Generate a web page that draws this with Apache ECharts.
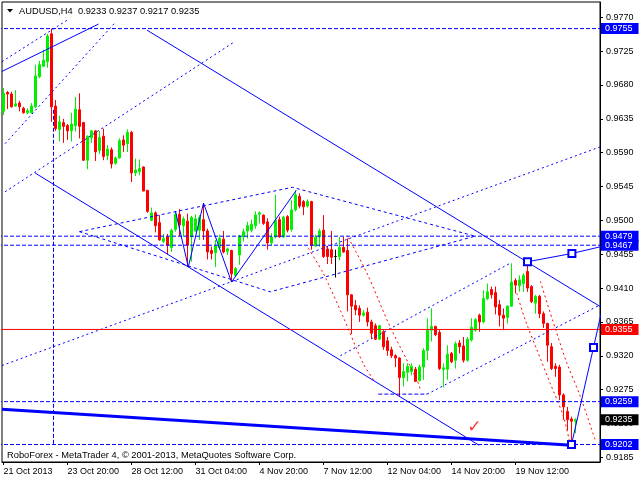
<!DOCTYPE html>
<html><head><meta charset="utf-8">
<script src="https://cdn.jsdelivr.net/npm/echarts@6/dist/echarts.min.js"></script>
<style>html,body{margin:0;padding:0;background:#fff}#c{width:640px;height:480px}</style>
</head><body><div id="c"></div>
<script>
// ---- candle data (AUDUSD H4), bar index 0..143 ----
const opens = [0.9645,0.9670,0.9668,0.9652,0.9656,0.9649,0.9643,0.9643,0.9651,0.9691,
0.9705,0.9711,0.9748,0.9652,0.9621,0.9630,0.9626,0.9619,0.9626,0.9647,
0.9630,0.9580,0.9610,0.9619,0.9593,0.9612,0.9586,0.9594,0.9576,0.9583,
0.9607,0.9602,0.9617,0.9563,0.9565,0.9571,0.9540,0.9500,0.9510,0.9497,
0.9472,0.9478,0.9464,0.9488,0.9508,0.9493,0.9499,0.9478,0.9486,0.9487,
0.9501,0.9486,0.9460,0.9457,0.9464,0.9475,0.9459,0.9460,0.9427,0.9454,
0.9478,0.9486,0.9487,0.9493,0.9508,0.9507,0.9498,0.9470,0.9478,0.9501,
0.9478,0.9505,0.9488,0.9514,0.9532,0.9525,0.9519,0.9525,0.9466,0.9478,
0.9487,0.9462,0.9461,0.9452,0.9452,0.9464,0.9460,0.9401,0.9387,0.9383,
0.9374,0.9378,0.9365,0.9360,0.9342,0.9352,0.9340,0.9328,0.9320,0.9317,
0.9291,0.9298,0.9299,0.9302,0.9287,0.9305,0.9327,0.9354,0.9359,0.9351,
0.9302,0.9302,0.9323,0.9314,0.9337,0.9333,0.9314,0.9341,0.9354,0.9374,
0.9365,0.9396,0.9408,0.9404,0.9388,0.9374,0.9371,0.9386,0.9420,0.9413,
0.9416,0.9432,0.9412,0.9390,0.9399,0.9376,0.9363,0.9332,0.9306,0.9305,
0.9268,0.9246,0.9236,0.9233];
const highs = [0.9676,0.9672,0.9671,0.9673,0.9659,0.9651,0.9649,0.9656,0.9707,0.9712,
0.9727,0.9748,0.9755,0.9660,0.9639,0.9635,0.9628,0.9643,0.9664,0.9669,
0.9631,0.9613,0.9620,0.9620,0.9619,0.9622,0.9600,0.9597,0.9585,0.9609,
0.9613,0.9621,0.9619,0.9582,0.9581,0.9572,0.9540,0.9517,0.9512,0.9507,
0.9482,0.9482,0.9489,0.9512,0.9515,0.9505,0.9509,0.9506,0.9508,0.9507,
0.9523,0.9489,0.9465,0.9474,0.9481,0.9486,0.9464,0.9461,0.9438,0.9481,
0.9489,0.9498,0.9501,0.9512,0.9512,0.9508,0.9503,0.9483,0.9534,0.9505,
0.9506,0.9507,0.9527,0.9540,0.9536,0.9527,0.9528,0.9526,0.9481,0.9489,
0.9507,0.9466,0.9486,0.9461,0.9478,0.9478,0.9476,0.9402,0.9394,0.9387,
0.9381,0.9384,0.9368,0.9363,0.9361,0.9354,0.9345,0.9332,0.9322,0.9318,
0.9310,0.9310,0.9310,0.9305,0.9308,0.9330,0.9370,0.9383,0.9360,0.9354,
0.9310,0.9334,0.9325,0.9339,0.9341,0.9345,0.9345,0.9370,0.9370,0.9376,
0.9407,0.9416,0.9412,0.9412,0.9394,0.9383,0.9387,0.9443,0.9423,0.9427,
0.9430,0.9445,0.9414,0.9401,0.9401,0.9379,0.9364,0.9337,0.9310,0.9308,
0.9270,0.9252,0.9239,0.9237];
const lows = [0.9640,0.9648,0.9650,0.9651,0.9645,0.9642,0.9641,0.9642,0.9649,0.9689,
0.9704,0.9703,0.9631,0.9619,0.9605,0.9603,0.9607,0.9605,0.9618,0.9609,
0.9579,0.9568,0.9603,0.9579,0.9588,0.9580,0.9580,0.9569,0.9574,0.9582,
0.9591,0.9591,0.9551,0.9559,0.9560,0.9539,0.9510,0.9499,0.9484,0.9473,
0.9470,0.9455,0.9458,0.9485,0.9479,0.9478,0.9438,0.9445,0.9485,0.9474,
0.9474,0.9448,0.9448,0.9438,0.9461,0.9456,0.9454,0.9418,0.9426,0.9441,
0.9472,0.9476,0.9484,0.9489,0.9496,0.9494,0.9461,0.9467,0.9476,0.9477,
0.9477,0.9484,0.9485,0.9512,0.9516,0.9507,0.9517,0.9461,0.9465,0.9465,
0.9450,0.9442,0.9442,0.9424,0.9447,0.9457,0.9379,0.9349,0.9374,0.9365,
0.9372,0.9359,0.9343,0.9341,0.9341,0.9328,0.9320,0.9317,0.9305,0.9266,
0.9279,0.9286,0.9294,0.9285,0.9286,0.9288,0.9314,0.9339,0.9346,0.9301,
0.9278,0.9288,0.9310,0.9303,0.9323,0.9311,0.9312,0.9339,0.9352,0.9352,
0.9363,0.9394,0.9396,0.9375,0.9359,0.9354,0.9363,0.9385,0.9403,0.9405,
0.9405,0.9405,0.9390,0.9376,0.9370,0.9357,0.9312,0.9301,0.9292,0.9261,
0.9235,0.9221,0.9202,0.9217];
const closes = [0.9669,0.9668,0.9651,0.9655,0.9651,0.9643,0.9646,0.9652,0.9692,0.9707,
0.9713,0.9745,0.9651,0.9622,0.9631,0.9625,0.9619,0.9628,0.9648,0.9625,
0.9580,0.9612,0.9619,0.9591,0.9610,0.9585,0.9595,0.9575,0.9583,0.9606,
0.9600,0.9617,0.9563,0.9567,0.9569,0.9539,0.9512,0.9510,0.9493,0.9474,
0.9476,0.9467,0.9487,0.9508,0.9494,0.9502,0.9467,0.9504,0.9502,0.9504,
0.9486,0.9458,0.9456,0.9467,0.9476,0.9458,0.9462,0.9429,0.9436,0.9479,
0.9485,0.9493,0.9495,0.9507,0.9510,0.9496,0.9470,0.9478,0.9500,0.9478,
0.9504,0.9487,0.9514,0.9534,0.9519,0.9518,0.9525,0.9467,0.9478,0.9486,
0.9452,0.9452,0.9451,0.9452,0.9464,0.9458,0.9401,0.9386,0.9381,0.9374,
0.9377,0.9365,0.9350,0.9342,0.9360,0.9332,0.9327,0.9320,0.9317,0.9291,
0.9299,0.9306,0.9306,0.9286,0.9305,0.9327,0.9354,0.9359,0.9348,0.9303,
0.9304,0.9322,0.9312,0.9336,0.9332,0.9314,0.9342,0.9358,0.9368,0.9365,
0.9396,0.9405,0.9401,0.9385,0.9374,0.9370,0.9386,0.9418,0.9414,0.9421,
0.9427,0.9410,0.9392,0.9399,0.9376,0.9363,0.9334,0.9303,0.9303,0.9268,
0.9252,0.9235,0.9233,0.9235];

// ---- axis ticks / labels ----
const timeTickIdx = [0,16,32,48,64,80,96,112,128];
const timeLabels = ['21 Oct 2013','23 Oct 20:00','28 Oct 12:00','31 Oct 04:00','4 Nov 20:00','7 Nov 12:00','12 Nov 04:00','14 Nov 20:00','19 Nov 12:00'];
const priceTicks = [0.9185,0.9230,0.9275,0.9320,0.9365,0.9410,0.9455,0.9500,0.9545,0.9590,0.9635,0.9680,0.9725,0.9770];
const headerText = 'AUDUSD,H4  0.9233 0.9237 0.9217 0.9235';
const footerText = 'RoboForex - MetaTrader 4, \u00a9 2001-2013, MetaQuotes Software Corp.';

// ---- horizontal levels ----
const blueLevels = [0.9755,0.9479,0.9467,0.9259,0.9202];
const redLevel = 0.9355;
const bidLevel = 0.9235;

// ---- drawing objects: [bar index, price] ----
const solidTopLeft = [[-0.4,0.9698],[23.75,0.9761]];
const dotTopA = [[-0.4,0.9711],[15.85,0.9766]];
const dotTopB = [[0.4,0.9602],[27.9,0.9763]];
const dotLongA = [[0.4,0.9538],[57.9,0.9738]];
const channelTop = [[35.85,0.9753],[149.3,0.9385]];
const channelBottom = [[7.9,0.9563],[118.9,0.9201]];
const thickSupport = [[-0.4,0.9249],[142,0.9201]];
const projUp = [[142,0.9202],[147.5,0.9331],[149.4,0.9376]];
const projTop = [[131,0.9445],[142.1,0.9456],[149.3,0.9465]];
const zigzag = [[43,0.9512],[46.2,0.9438],[50,0.9523],[57,0.9418],[73.2,0.9540]];
const rhombus = [[19,0.9485],[72.2,0.9544],[117.9,0.9479],[66.7,0.9405],[19,0.9485]];
const dotRise1 = [[-0.4,0.9307],[149.3,0.9598]];
const dotRise2 = [[84.2,0.9320],[127,0.9444]];
const dotRise3 = [[105.9,0.9269],[149.3,0.9388]];
const dotLowFlat = [[93.7,0.9269],[105.9,0.9269]];
const vertLine = [[12.5,0.9647],[12.5,0.9202]];
const arcA = [[76.2,0.9463],[79.9,0.9430],[84.9,0.9372],[89.9,0.9310],[92.9,0.9285]];
const arcB = [[86.2,0.9477],[90.85,0.9430],[96.7,0.9358],[103.35,0.9288],[104.2,0.9275]];
const arcC = [[128.35,0.9403],[130.4,0.9368],[133.35,0.9328],[136.7,0.9283],[140,0.9239],[141.7,0.9201]];
const arcD = [[134.2,0.9419],[137.9,0.9357],[140.85,0.9310],[144.2,0.9266],[147.9,0.9208]];
const checkMark = [[117.7,0.9225]];
const squaresA = [0,1]; // indices in projUp with marker
const squaresB = [0,1]; // indices in projTop with marker

const X_MIN = -0.375, X_MAX = 149.125, Y_MIN = 0.917877, Y_MAX = 0.979034;
const FONT = '"Liberation Sans", Arial, sans-serif';
const BLUE = '#0000ff', RED = '#ff0000';

const candleData = opens.map((o,i)=>[i,o,closes[i],lows[i],highs[i]]);

function seg(data, color, type, width, extra) {
  return Object.assign({type:'line', data:data, symbol:'none', silent:true, animation:false,
    lineStyle:{color:color, type:type, width:width}, z:3}, extra||{});
}
function marked(data, idx) {
  return data.map((p,i)=> idx.indexOf(i)>=0 ? {value:p, symbol:'emptyRect', symbolSize:7} : {value:p, symbol:'none'});
}
function level(p, lineColor, bg, lineType, showLine) {
  return {type:'line', data:[[X_MIN-1,p],[X_MAX,p]], symbol:'none', silent:true, animation:false, z:4,
    lineStyle:{color:lineColor, type:lineType, width:1, opacity: showLine?1:0},
    endLabel:{show:true, formatter:()=>p.toFixed(4), color:'#fff', backgroundColor:bg,
      fontFamily:FONT, fontSize:9, lineHeight:10, padding:[1,6,0,4], distance:1}};
}

const series = [
  {type:'candlestick', data:candleData, barWidth:2, animation:false, silent:true, z:2,
   itemStyle:{color:'#00f000', color0:RED, borderColor:'#00f000', borderColor0:RED, borderColorDoji:'#000000', borderWidth:1}},
  seg(solidTopLeft, BLUE, 'solid', 1),
  seg(dotTopA, BLUE, [2,3], 1),
  seg(dotTopB, BLUE, [2,3], 1),
  seg(dotLongA, BLUE, [2,3], 1),
  seg(channelTop, BLUE, 'solid', 1),
  seg(channelBottom, BLUE, 'solid', 1),
  seg(thickSupport, BLUE, 'solid', 3),
  seg(zigzag, BLUE, 'solid', 1),
  seg(rhombus, BLUE, [3,3], 1),
  seg(dotRise1, BLUE, [2,3], 1),
  seg(dotRise2, BLUE, [2,3], 1),
  seg(dotRise3, BLUE, [2,3], 1),
  seg(dotLowFlat, BLUE, [4,2], 1),
  seg(vertLine, BLUE, [4,2], 1),
  seg(arcA, RED, [2,3], 1, {smooth:0.3}),
  seg(arcB, RED, [2,3], 1, {smooth:0.3}),
  seg(arcC, RED, [2,3], 1, {smooth:0.3}),
  seg(arcD, RED, [2,3], 1, {smooth:0.3}),
  Object.assign(seg(marked(projUp, squaresA), BLUE, 'solid', 1), {showSymbol:true, itemStyle:{color:BLUE, borderWidth:1}, z:5}),
  Object.assign(seg(marked(projTop, squaresB), BLUE, 'solid', 1), {showSymbol:true, itemStyle:{color:BLUE, borderWidth:1}, z:5}),
  {type:'scatter', data:checkMark, symbol:'circle', symbolSize:1, silent:true, animation:false, z:6,
   itemStyle:{color:'rgba(0,0,0,0)'},
   label:{show:true, formatter:'\u2713', color:RED, fontSize:17, fontWeight:'bold', position:'inside', fontFamily:'DejaVu Sans'}},
];
blueLevels.forEach(p=>series.push(level(p, BLUE, BLUE, [4,2], true)));
series.push(level(redLevel, RED, RED, 'solid', true));
series.push(level(bidLevel, '#000', '#000', 'solid', false));

const option = {
  animation:false,
  backgroundColor:'#ffffff',
  title:[
    {text:headerText, left:19, top:5, padding:0, textStyle:{fontFamily:FONT, fontSize:9.3, fontWeight:'normal', color:'#000', lineHeight:12}},
    {text:footerText, left:7, top:449, padding:0, textStyle:{fontFamily:FONT, fontSize:9.3, fontWeight:'normal', color:'#000', lineHeight:12}}
  ],
  graphic:[{type:'polygon', shape:{points:[[7,9],[13,9],[10,12.5]]}, style:{fill:'#000'}}],
  grid:{left:2, right:40, top:2, bottom:18, show:true, borderColor:'#000', borderWidth:1, backgroundColor:'#fff'},
  xAxis:{type:'value', min:X_MIN, max:X_MAX, splitLine:{show:false},
    axisLine:{show:true, onZero:false, lineStyle:{color:'#000'}},
    axisTick:{show:true, length:3, customValues:timeTickIdx, lineStyle:{color:'#000'}},
    axisLabel:{show:true, customValues:timeTickIdx, align:'left', margin:5, color:'#000', fontFamily:FONT, fontSize:9,
      formatter:(v)=>{const i=timeTickIdx.indexOf(Math.round(v)); return i>=0?timeLabels[i]:'';}}},
  yAxis:{type:'value', position:'right', min:Y_MIN, max:Y_MAX, scale:true, splitLine:{show:false},
    axisLine:{show:true, onZero:false, lineStyle:{color:'#000'}},
    axisTick:{show:true, length:3, customValues:priceTicks, lineStyle:{color:'#000'}},
    axisLabel:{show:true, customValues:priceTicks, margin:6, color:'#000', fontFamily:FONT, fontSize:9,
      formatter:(v)=>v.toFixed(4)}},
  series:series
};
const chart = echarts.init(document.getElementById('c'), null, {renderer:'canvas'});
chart.setOption(option);
</script></body></html>
